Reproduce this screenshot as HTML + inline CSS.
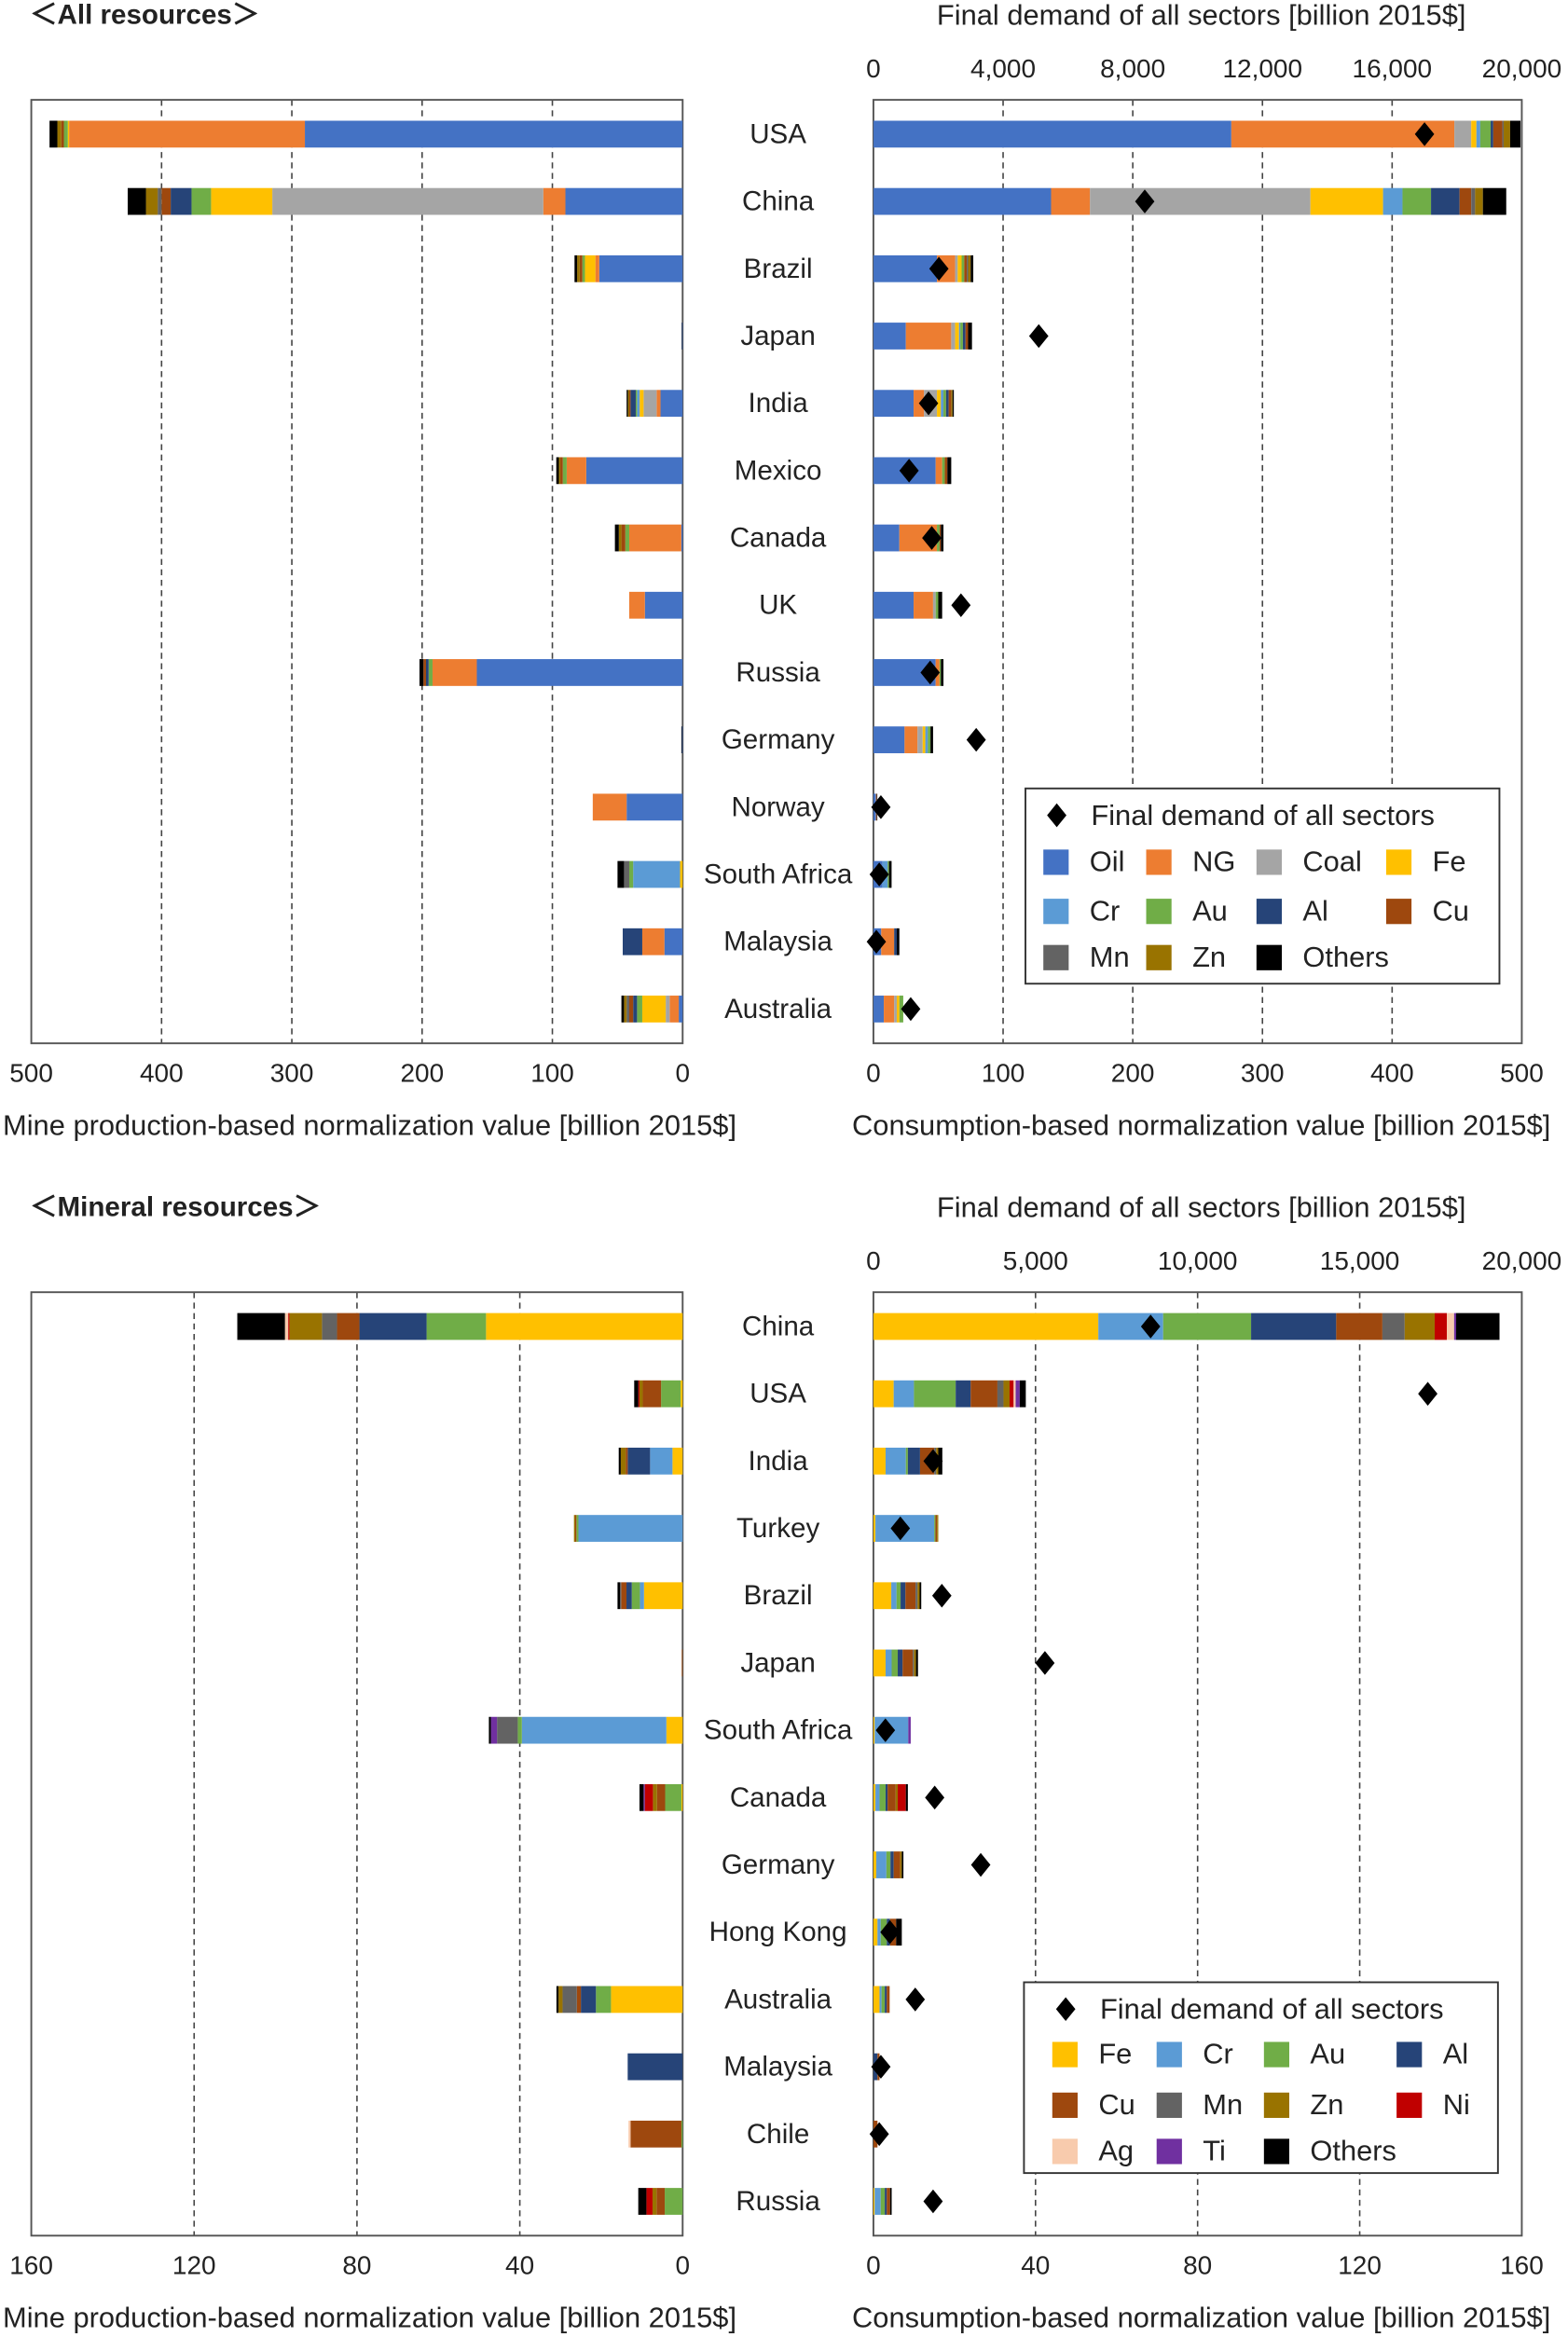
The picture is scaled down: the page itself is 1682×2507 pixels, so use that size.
<!DOCTYPE html>
<html><head><meta charset="utf-8"><style>
html,body{margin:0;padding:0;background:#fff}
svg{display:block;font-family:"Liberation Sans",Arial,sans-serif}
</style></head><body>
<svg id="chart" xmlns="http://www.w3.org/2000/svg" width="1682" height="2507" viewBox="0 0 1052 1568" preserveAspectRatio="none"></svg>
<script>
// ---------- DATA ----------
const topCats = ["Oil","NG","Coal","Fe","Cr","Au","Al","Cu","Mn","Zn","Others"];
const topCountries = ["USA","China","Brazil","Japan","India","Mexico","Canada","UK","Russia","Germany","Norway","South Africa","Malaysia","Australia"];
const topMine = [
 [290,181,0,1,0,3,0,2,0,3,6],
 [90,17,208,47,0,15,16,7,3,9,14],
 [64,3,0,8,0,2,0,2,0,2,2],
 [0.5,0,0,0,0,0,0,0,0,0,0.3],
 [17,3,10,3,2,1,4,1,0,1,1],
 [74,15,0,0,0,3,0,2,0,1,2],
 [1,40,0,0,0,3,0,3,0,2,3],
 [29,12,0,0,0,0,0,0,0,0,0],
 [158,34,0,0,0,3,2,2,0,0,3],
 [0.5,0,0,0,0,0,0,0,0,0,0.5],
 [43,26,0,0,0,0,0,0,0,0,0],
 [0,0,0,2,36,3,0,0,4,0,5],
 [14,17,0,0,0,0,15,0,0,0,0],
 [3,7,3,18,0,4,3,3,2,2,2]
];
const topCons = [
 [276,172,13,4,3,8,2,7,1,5,8],
 [137,30,170,56,15,22,22,9,3,6,18],
 [49,14,2,3,0,2,0,2,1,2,2],
 [25,35,3,3,1,2,2,2,0,0,3],
 [31,8,10,3,2,2,2,2,0,1,1],
 [48,5,0,0,0,2,0,2,0,0,3],
 [20,29,0,0,0,2,0,1,0,0,2],
 [31,15,2,0,0,2,0,0,0,0,3],
 [48,3,0,0,0,1,0,0,0,0,2],
 [24,10,4,2,2,2,0,0,0,0,2],
 [2,0.5,0,0,0,0,0,0,0,0,0.5],
 [7,0,0,0,4,1,0,0,0,0,2],
 [6,10,0,0,0,0,2,0,0,0,2],
 [8,8,2,2,0,3,0,0,0,0,0]
];
const topDemand = [17000,8370,2020,5100,1700,1100,1800,2700,1750,3170,230,180,90,1150];

const botCats = ["Fe","Cr","Au","Al","Cu","Mn","Zn","Ni","Ag","Ti","Others"];
const botCountries = ["China","USA","India","Turkey","Brazil","Japan","South Africa","Canada","Germany","Hong Kong","Australia","Malaysia","Chile","Russia"];
const botMine = [
 [48.3,0,14.6,16.5,5.5,3.7,8,0.3,0.8,0,11.7],
 [0.5,0,4.8,0,4.5,0,0.8,0.3,0,0,1],
 [2.5,5.5,0,5.5,0.5,0,1.2,0,0,0,0.5],
 [0,25.6,0.5,0,0.3,0,0.3,0,0,0,0],
 [9.5,1,2,1.3,1.3,0.3,0,0,0,0,0.6],
 [0,0,0,0,0.2,0,0,0,0,0,0],
 [4,35.5,1,0,0,5.1,0,0,0,1.5,0.5],
 [0.3,0,4,0,2,0,1,2,0,0.3,1],
 [0,0,0,0,0,0,0,0,0,0,0],
 [0,0,0,0,0,0,0,0,0,0,0],
 [17.6,0,3.7,3.7,1,3.5,1,0,0,0,0.5],
 [0,0,0,13.5,0,0,0,0,0,0,0],
 [0,0,0.3,0,12.5,0,0,0,0.5,0,0],
 [0,0,4.4,0,2,0,1,1.5,0,0,2]
];
const botCons = [
 [55.5,16,21.7,21,11.4,5.5,7.4,3,1.8,0.5,10.7],
 [5,5,10.3,3.7,6.6,1.5,1.5,1,0.5,1,1.5],
 [3,5,0.5,3,3.5,0.5,0.5,0,0,0,1],
 [0.5,14.5,0.3,0,0.4,0,0.3,0,0,0,0],
 [4.4,1.3,1,1.2,2.5,0.5,0.5,0,0,0,0.4],
 [3,1.5,1.5,1.2,2.5,0.3,0.5,0,0,0,0.5],
 [0.3,8.3,0,0,0,0,0,0,0,0.6,0],
 [0.5,1,1.5,0.5,2,0,0.5,2,0,0,0.5],
 [0.7,2.5,1,0.8,1.6,0,0.4,0,0,0,0.4],
 [1,0.8,1.5,0.8,1.5,0,0,0,0,0,1.4],
 [1.5,0.5,0.8,0.5,0.7,0,0,0,0,0,0],
 [0,0,0,1,0.5,0,0,0,0,0,0],
 [0,0,0,0,1,0,0,0,0,0,0],
 [0.3,1.5,1,0.5,0.8,0,0,0,0,0,0.4]
];
const botDemand = [8550,17100,1840,830,2110,5290,370,1890,3310,510,1290,230,180,1840];

const topBottomTicks = [500,400,300,200,100,0];
const topRightTicks = [0,100,200,300,400,500];
const topDemandTicks = ["0","4,000","8,000","12,000","16,000","20,000"];
const botLeftTicks = [160,120,80,40,0];
const botRightTicks = [0,40,80,120,160];
const botDemandTicks = ["0","5,000","10,000","15,000","20,000"];

const colors = {Oil:"#4472C4",NG:"#ED7D31",Coal:"#A5A5A5",Fe:"#FFC000",Cr:"#5B9BD5",Au:"#70AD47",Al:"#264478",Cu:"#9E480E",Mn:"#636363",Zn:"#997300",Ni:"#C00000",Ag:"#F8CBAD",Ti:"#7030A0",Others:"#000000"};

// ---------- DRAW ----------
const NS="http://www.w3.org/2000/svg";
const svg=document.getElementById('chart');
function mk(tag,attrs,parent){const e=document.createElementNS(NS,tag);for(const k in attrs)e.setAttribute(k,attrs[k]);(parent||svg).appendChild(e);return e;}
function txt(x,y,s,size,anchor,weight){const t=mk('text',{x:x,y:y,'font-size':size,'text-anchor':anchor||'middle','dominant-baseline':'central',fill:'#222'});if(weight)t.setAttribute('font-weight',weight);t.textContent=s;return t;}

function panel(o){
  const L0=21,L1=458,R0=586,R1=1021;
  const lx=v=>L1-v*(L1-L0)/o.max;
  const rx=v=>R0+v*(R1-R0)/o.max;
  const dx=v=>R0+v*(R1-R0)/20000;
  const rowY=i=>o.y0+i*(o.y1-o.y0)/13;
  let t=txt(20,o.titleY,o.title,18.5,'start','bold');
  
  
  t=txt(806,o.titleY,"Final demand of all sectors [billion 2015$]",19.3);
  
  
  o.demandTicks.forEach((s,i)=>{
    const tt=txt(dx(i*20000/(o.demandTicks.length-1)),o.titleY+36,s,17.5);
    
    
  });
  o.leftTicks.forEach(v=>{ if(v>0&&v<o.max){const g=mk('line',{x1:lx(v),x2:lx(v),y1:o.boxT,y2:o.boxB,stroke:'#444','stroke-width':1,'stroke-dasharray':'4,3'});
    }});
  o.rightTicks.forEach(v=>{ if(v>0&&v<o.max){const g=mk('line',{x1:rx(v),x2:rx(v),y1:o.boxT,y2:o.boxB,stroke:'#444','stroke-width':1,'stroke-dasharray':'4,3'});
    }});
  let f=mk('rect',{x:L0,y:o.boxT,width:L1-L0,height:o.boxB-o.boxT,fill:'none',stroke:'#555','stroke-width':1.2});
  
  f=mk('rect',{x:R0,y:o.boxT,width:R1-R0,height:o.boxB-o.boxT,fill:'none',stroke:'#555','stroke-width':1.2});
  
  o.leftTicks.forEach(v=>{const tt=txt(lx(v),o.boxB+20,String(v),17.5);});
  o.rightTicks.forEach(v=>{const tt=txt(rx(v),o.boxB+20,String(v),17.5);});
  t=txt(248,o.boxB+55,"Mine production-based normalization value [billion 2015$]",19.3);
  
  t=txt(806,o.boxB+55,"Consumption-based normalization value [billion 2015$]",19.3);
  
  const h=18;
  o.countries.forEach((c,i)=>{
    const y=rowY(i);
    const lab=txt(522,y,c,18.5);
    
    let acc=0;
    o.cats.forEach((cat,j)=>{
      const v=o.mine[i][j]; if(v<=0)return;
      const r=mk('rect',{x:lx(acc+v),y:y-h/2,width:lx(acc)-lx(acc+v),height:h,fill:colors[cat]});
      
      
      acc+=v;
    });
    acc=0;
    o.cats.forEach((cat,j)=>{
      const v=o.cons[i][j]; if(v<=0)return;
      const r=mk('rect',{x:rx(acc),y:y-h/2,width:rx(acc+v)-rx(acc),height:h,fill:colors[cat]});
      
      
      acc+=v;
    });
    const d=dx(o.demand[i]);
    const p=mk('polygon',{points:`${d},${y-8} ${d+6.5},${y} ${d},${y+8} ${d-6.5},${y}`,fill:'#000'});
    
    
  });
  const lg=o.legend;
  const b=mk('rect',{x:lg.x,y:lg.y,width:lg.w,height:lg.h,fill:'#fff',stroke:'#333','stroke-width':1.2});
  
  const dy=lg.y+18;
  const p=mk('polygon',{points:`${lg.dX},${dy-8} ${lg.dX+6.5},${dy} ${lg.dX},${dy+8} ${lg.dX-6.5},${dy}`,fill:'#000'});
  
  t=txt(lg.dX+23,dy,"Final demand of all sectors",19.3,'start');
  
  o.cats.forEach((cat,j)=>{
    const row=Math.floor(j/4),col=j%4;
    const sx=lg.cols[col],sy=lg.rows[row];
    const s=mk('rect',{x:sx,y:sy-8,width:17,height:17,fill:colors[cat]});
    
    const tt=txt(sx+31,sy,cat,19.3,'start');
    
  });
}

panel({key:'all',title:'＜All resources＞',titleY:10,boxT:67,boxB:700,y0:90,y1:677,max:500,
  cats:topCats,countries:topCountries,mine:topMine,cons:topCons,demand:topDemand,
  leftTicks:topBottomTicks,rightTicks:topRightTicks,demandTicks:topDemandTicks,
  legend:{x:688,y:529,w:318,h:131,dX:709,cols:[700,769,843,930],rows:[578,611,642]}});
panel({key:'mineral',title:'＜Mineral resources＞',titleY:810,boxT:867,boxB:1500,y0:890,y1:1477,max:160,
  cats:botCats,countries:botCountries,mine:botMine,cons:botCons,demand:botDemand,
  leftTicks:botLeftTicks,rightTicks:botRightTicks,demandTicks:botDemandTicks,
  legend:{x:687,y:1330,w:318,h:128,dX:715,cols:[706,776,848,937],rows:[1378,1412,1443]}});
</script>
</body></html>
